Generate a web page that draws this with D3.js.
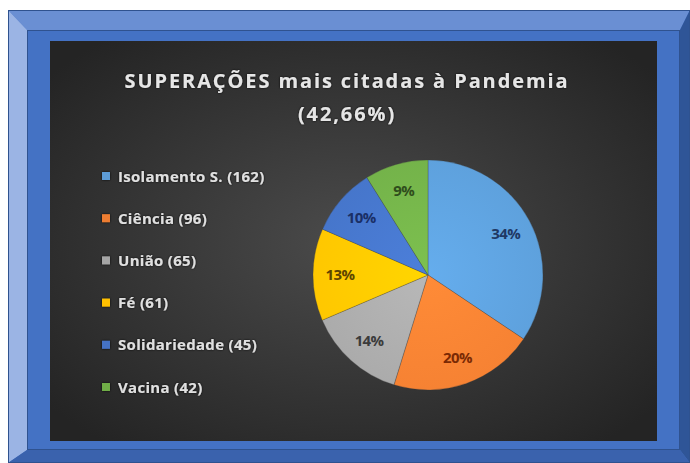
<!DOCTYPE html>
<html>
<head>
<meta charset="utf-8">
<title>Superações mais citadas à Pandemia</title>
<script src="https://d3js.org/d3.v7.min.js"></script>
<style>
  html, body { margin: 0; padding: 0; background: #fff; }
  svg { display: block; }
</style>
</head>
<body>
<div id="vis"></div>
<script>
const width = 690;
const height = 463;

// chart data
const categories = ["Isolamento S.", "Ciência", "União", "Fé", "Solidariedade", "Vacina"];
const counts = [162, 96, 65, 61, 45, 42];
const sliceColors = ["#5b9bd5", "#ed7d31", "#a5a5a5", "#ffc000", "#4472c4", "#70ad47"];
const labelColors = ["#1f3864", "#7a2a04", "#3b3b3b", "#5e4500", "#1a2f66", "#2f4d1c"];
const titleLines = ["SUPERAÇÕES mais citadas à Pandemia", "(42,66%)"];

const total = d3.sum(counts);
const rows = categories.map((c, i) => ({ name: c, value: counts[i], i: i }));

const svg = d3.select("#vis").append("svg")
  .attr("width", width)
  .attr("height", height);

const defs = svg.append("defs");

// background gradient of the plot area
const bg = defs.append("radialGradient").attr("id", "bg")
  .attr("cx", "50%").attr("cy", "50%").attr("r", "65%");
bg.append("stop").attr("offset", "0%").attr("stop-color", "#4b4b4b");
bg.append("stop").attr("offset", "100%").attr("stop-color", "#242424");

// soft glow for texts
const glow = defs.append("filter").attr("id", "glow")
  .attr("x", "-10%").attr("y", "-30%").attr("width", "120%").attr("height", "160%");
glow.append("feDropShadow").attr("dx", 0).attr("dy", 0).attr("stdDeviation", 1.2)
  .attr("flood-color", "#000").attr("flood-opacity", 0.9);

// per-slice gradients
sliceColors.forEach(function(c, i) {
  const g = defs.append("radialGradient").attr("id", "sl" + i)
    .attr("gradientUnits", "userSpaceOnUse")
    .attr("cx", 0).attr("cy", 0).attr("r", 116);
  g.append("stop").attr("offset", "0%").attr("stop-color", d3.color(c).brighter(0.3));
  g.append("stop").attr("offset", "100%").attr("stop-color", d3.color(c).brighter(0.1));
});

// beveled blue frame
const frame = svg.append("g");
frame.append("rect").attr("x", 8).attr("y", 10).attr("width", 682).attr("height", 453)
  .attr("fill", "#4472c4");
frame.append("polygon").attr("points", "8,10 690,10 680,30 27,30").attr("fill", "#6a8fd3");
frame.append("polygon").attr("points", "8,10 27,30 27,450 8,463").attr("fill", "#9bb4e4");
frame.append("polygon").attr("points", "690,10 690,463 680,450 680,30").attr("fill", "#2f5597");
frame.append("polygon").attr("points", "8,463 27,450 680,450 690,463").attr("fill", "#3a62ad");
frame.append("rect").attr("x", 8.5).attr("y", 10.5).attr("width", 681).attr("height", 452)
  .attr("fill", "none").attr("stroke", "#2f528f").attr("stroke-width", 1);
frame.append("rect").attr("x", 27.5).attr("y", 30.5).attr("width", 652).attr("height", 419)
  .attr("fill", "none").attr("stroke", "#2f528f").attr("stroke-width", 1);

// plot area
svg.append("rect").attr("x", 50).attr("y", 41).attr("width", 607).attr("height", 400)
  .attr("fill", "url(#bg)");

// title
svg.append("g").attr("filter", "url(#glow)")
  .selectAll("text").data(titleLines).enter().append("text")
  .attr("x", 347)
  .attr("y", (d, i) => 88 + i * 33)
  .attr("text-anchor", "middle")
  .attr("font-family", "'Open Sans', sans-serif")
  .attr("font-weight", "bold")
  .attr("font-size", 20)
  .attr("letter-spacing", 1.9)
  .attr("fill", "#e6e6e6")
  .text(d => d);

// legend
const legend = svg.append("g").attr("filter", "url(#glow)");
const ly = d3.scalePoint().domain(categories).range([176, 387]);
const item = legend.selectAll("g").data(rows).enter().append("g")
  .attr("transform", d => "translate(102," + ly(d.name) + ")");
item.append("rect").attr("x", 0).attr("y", -4).attr("width", 8).attr("height", 8)
  .attr("fill", d => sliceColors[d.i]);
item.append("text").attr("x", 16).attr("y", 5.5)
  .attr("font-family", "'Open Sans', sans-serif")
  .attr("font-weight", "bold")
  .attr("font-size", 15)
  .attr("letter-spacing", 0.3)
  .attr("fill", "#e0e0e0")
  .text(d => d.name + " (" + d.value + ")");

// pie
const radius = 115;
const pie = d3.pie().sort(null).value(d => d.value);
const arc = d3.arc().innerRadius(0).outerRadius(radius);
const labelArc = d3.arc().innerRadius(88).outerRadius(88);

const pg = svg.append("g").attr("transform", "translate(428,275)");
const arcs = pie(rows);

pg.selectAll("path").data(arcs).enter().append("path")
  .attr("d", arc)
  .attr("fill", (d, i) => "url(#sl" + i + ")")
  .attr("stroke", "#3a3a3a")
  .attr("stroke-opacity", 0.35)
  .attr("stroke-width", 0.8);

pg.selectAll("text").data(arcs).enter().append("text")
  .attr("transform", d => "translate(" + labelArc.centroid(d) + ")")
  .attr("text-anchor", "middle")
  .attr("dy", "0.35em")
  .attr("font-family", "'Open Sans', sans-serif")
  .attr("font-weight", "bold")
  .attr("font-size", 15)
  .attr("letter-spacing", -0.6)
  .attr("fill", (d, i) => labelColors[i])
  .text(d => Math.round(d.data.value / total * 100) + "%");
</script>
</body>
</html>
